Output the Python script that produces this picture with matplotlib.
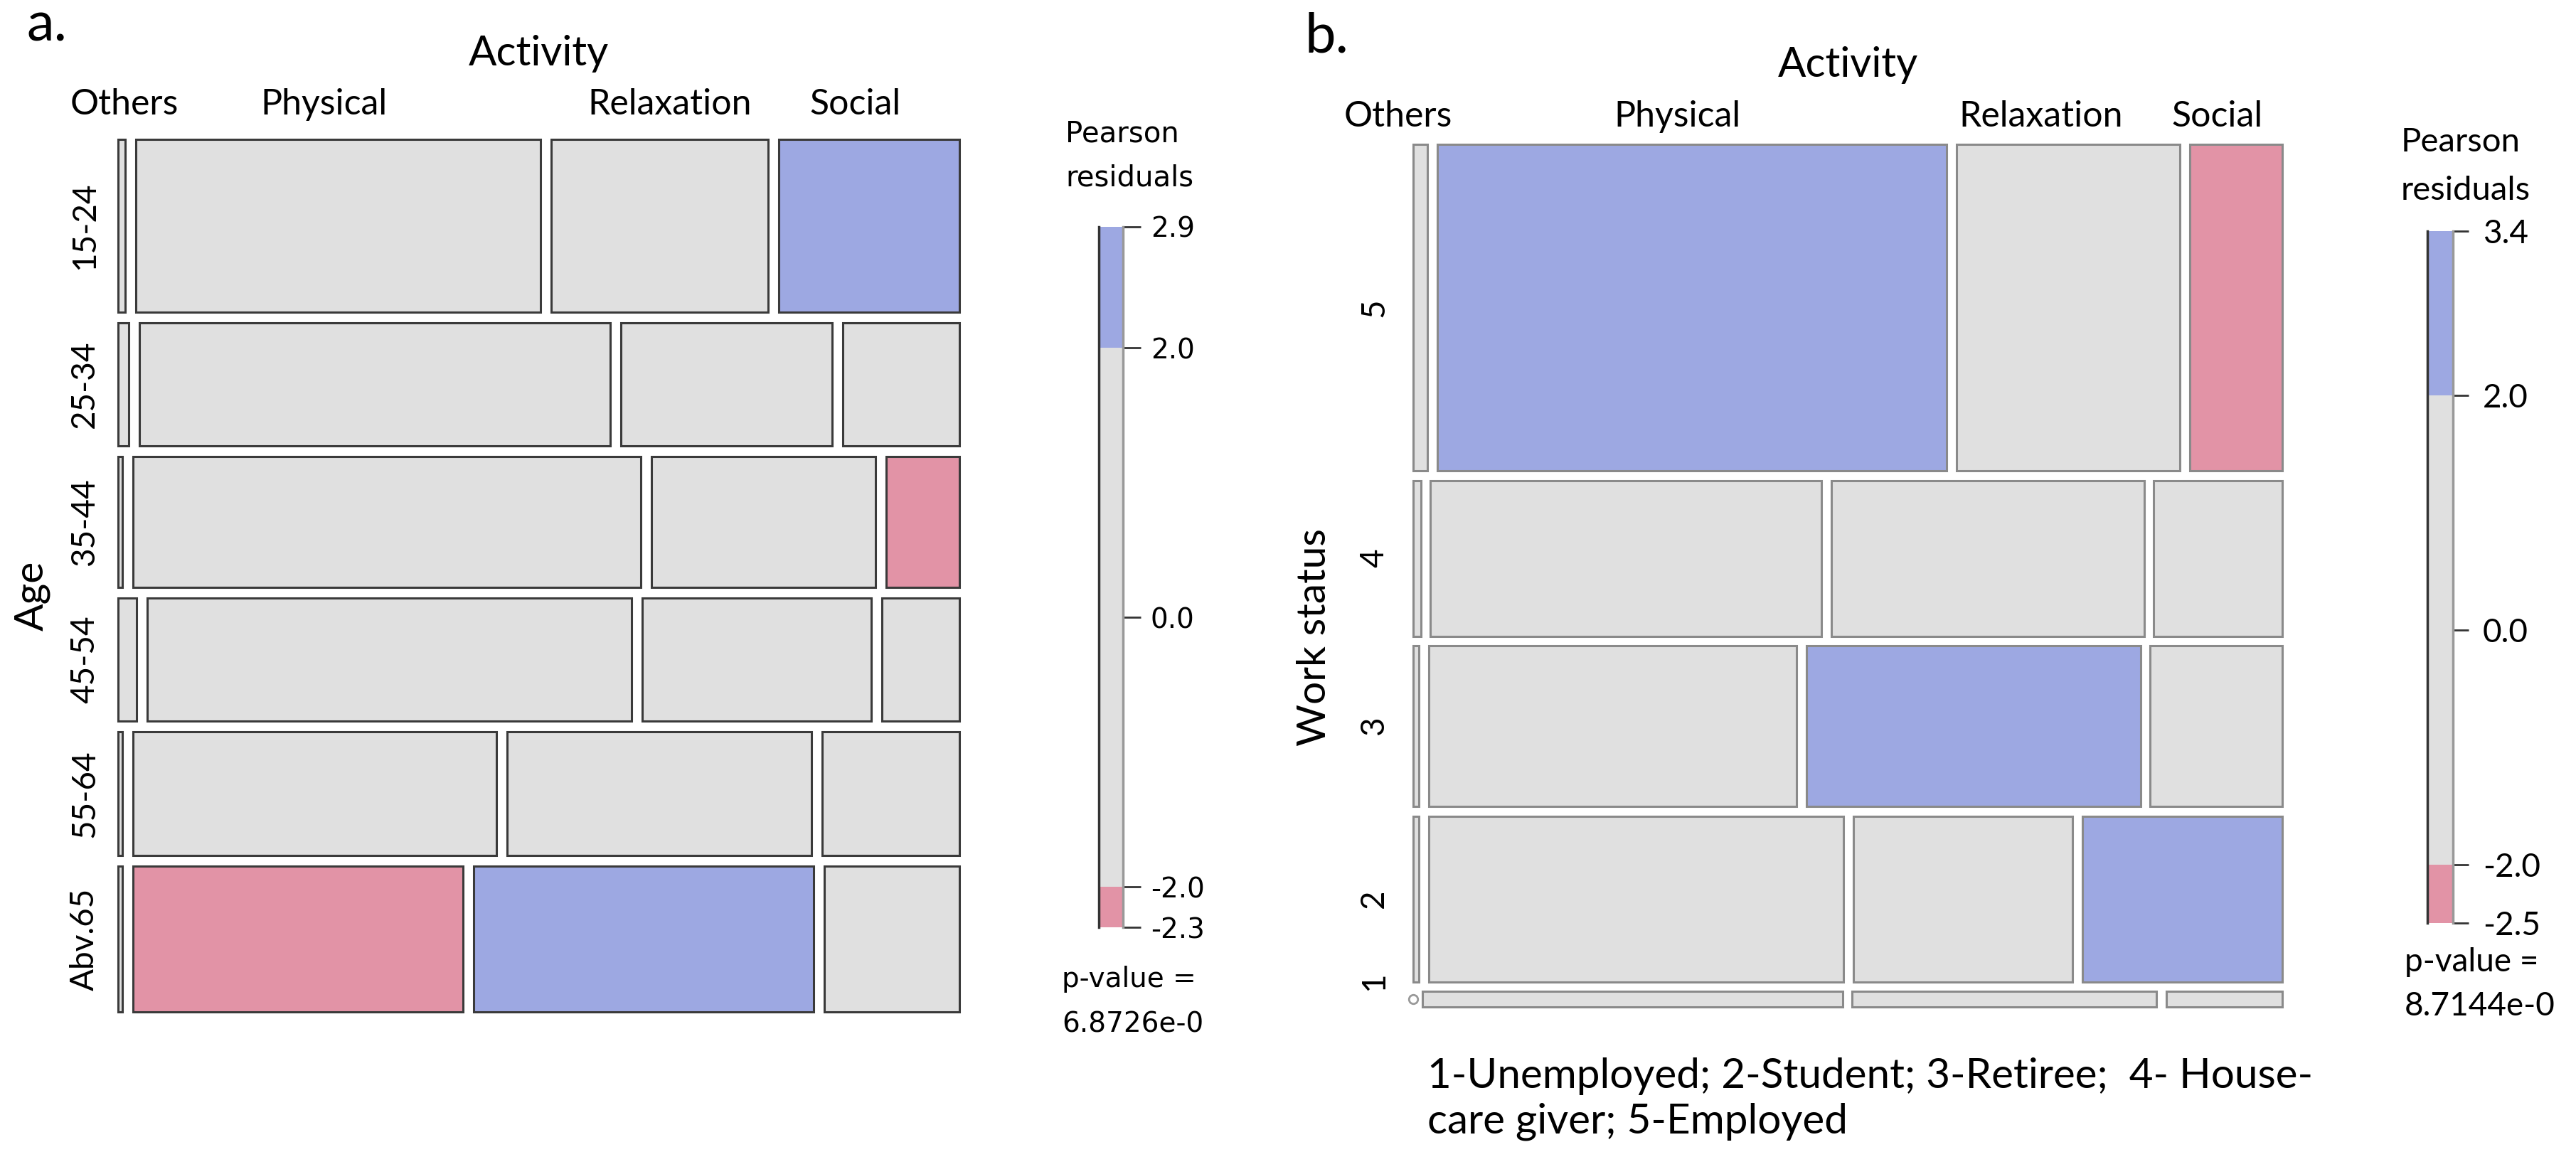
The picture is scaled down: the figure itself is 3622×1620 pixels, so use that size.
import matplotlib
matplotlib.use("Agg")
import matplotlib.pyplot as plt
from matplotlib.patches import Rectangle
import numpy as np

# ---- panel a: Age x Activity ----
activity = ["Others", "Physical", "Relaxation", "Social"]
age_groups = ["15-24", "25-34", "35-44", "45-54", "55-64", "Abv.65"]
# share of each age group (%), top to bottom
age_share = [21.1, 15.0, 16.0, 15.0, 15.1, 17.8]
# activity share within each age group (%)
age_activity = [
    [0.9, 50.0, 26.8, 22.3],
    [1.3, 58.2, 26.1, 14.4],
    [0.5, 62.7, 27.7, 9.0],
    [2.3, 59.9, 28.3, 9.6],
    [0.5, 44.9, 37.6, 17.0],
    [0.5, 40.8, 42.0, 16.7],
]
# Pearson residuals
age_resid = [
    [-0.3, -0.9, -0.6, 2.9],
    [0.4, 0.6, -0.7, -0.5],
    [-0.5, 1.1, -0.4, -2.1],
    [1.6, 0.9, -0.2, -1.6],
    [-0.5, -1.0, 1.3, 0.2],
    [-0.5, -2.3, 2.4, 0.1],
]
p_value_a = "6.8726e-0"

# ---- panel b: Work status x Activity ----
work_status = ["5", "4", "3", "2", "1"]
work_share = [39.6, 18.9, 19.5, 20.1, 1.9]
work_activity = [
    [1.7, 60.6, 26.6, 11.0],
    [0.9, 46.6, 37.3, 15.3],
    [0.7, 43.8, 39.8, 15.7],
    [0.7, 49.4, 26.1, 23.8],
    [0.0, 49.9, 36.2, 13.8],
]
work_resid = [
    [0.8, 3.4, -1.4, -2.5],
    [0.1, -1.2, 1.0, 0.6],
    [-0.3, -1.6, 2.2, 0.4],
    [-0.3, -0.6, -1.1, 3.1],
    [-0.4, -0.2, 0.3, -0.1],
]
p_value_b = "8.7144e-0"
work_note = ["1-Unemployed; 2-Student; 3-Retiree;  4- House-", "care giver; 5-Employed"]

BLUE = "#9DA8E2"
RED = "#E293A6"
GREY = "#E0E0E0"
FONT = "Lato"

W, H = 3622, 1620


def px(x, y):
    return x / W, 1 - y / H


def shade(r):
    if r > 2:
        return BLUE
    if r < -2:
        return RED
    return GREY


def draw_mosaic(ax, row_share, cells, resid, gx, gy, edge):
    rows = np.array(row_share, float)
    heights = rows / rows.sum() * (1 - gy * (len(rows) - 1))
    top = 1.0
    centers = []
    for i, h in enumerate(heights):
        bottom = top - h
        shares = np.array(cells[i], float)
        widths = shares / shares.sum() * (1 - gx * (len(shares) - 1))
        left = 0.0
        for j, w in enumerate(widths):
            if w > 0:
                ax.add_patch(Rectangle((left, bottom), w, h, facecolor=shade(resid[i][j]),
                                       edgecolor=edge, linewidth=2.2, clip_on=False))
            else:
                # empty cell
                ax.plot(left, bottom + h / 2, "o", ms=9, mfc="white", mec="#999999",
                        mew=2, clip_on=False)
            left += w + gx
        centers.append(max((bottom + top) / 2, 0.03))
        top = bottom - gy
    ax.set_xlim(0, 1)
    ax.set_ylim(0, 1)
    ax.axis("off")
    return centers


def draw_legend(ax, resid, family, size, tick_len, pad):
    r = np.array(resid, float)
    lo, hi = r.min(), r.max()
    ax.set_ylim(lo, hi)
    ax.set_xlim(0, 1)
    ax.bar(0.5, -2 - lo, bottom=lo, width=1, color=RED, linewidth=0)
    ax.bar(0.5, 4, bottom=-2, width=1, color=GREY, linewidth=0)
    ax.bar(0.5, hi - 2, bottom=2, width=1, color=BLUE, linewidth=0)
    for s in ["top", "bottom"]:
        ax.spines[s].set_visible(False)
    ax.spines["left"].set_color("#333333")
    ax.spines["left"].set_linewidth(2.5)
    ax.spines["right"].set_color("#999999")
    ax.spines["right"].set_linewidth(2.5)
    ax.set_xticks([])
    ax.yaxis.tick_right()
    ticks = [lo, -2, 0, 2, hi]
    ax.set_yticks(ticks)
    ax.set_yticklabels(["%.1f" % t for t in ticks], family=family, fontsize=size)
    ax.tick_params(axis="y", length=tick_len, width=2, color="#333333", pad=pad)


fig = plt.figure(figsize=(W / 100, H / 100), dpi=100)

# ---------------- panel a ----------------
axa = fig.add_axes([166 / W, 1 - 1423 / H, (1349 - 166) / W, (1423 - 196) / H])
rc = draw_mosaic(axa, age_share, age_activity, age_resid, 0.0127, 0.0122, "#3a3a3a")
for lab, x in zip(activity, [175, 455, 942, 1202]):
    fig.text(*px(x, 161), lab, family=FONT, fontsize=36, ha="center", va="baseline")
for lab, c in zip(age_groups, rc):
    fig.text(119 / W, (1 - 1423 / H) + c * (1227 / H), lab, family=FONT, fontsize=33,
             rotation=90, ha="center", va="center")
fig.text(*px(757, 92), "Activity", family=FONT, fontsize=42, ha="center", va="baseline")
fig.text(*px(45, 838), "Age", family=FONT, fontsize=41, rotation=90, ha="center", va="center")
fig.text(*px(38, 57), "a.", family=FONT, fontsize=56, ha="left", va="baseline")

lga = fig.add_axes([1545 / W, 1 - 1304 / H, 34 / W, 985 / H])
draw_legend(lga, age_resid, "DejaVu Sans", 28, 18, 10)
fig.text(*px(1498, 200), "Pearson", family="DejaVu Sans", fontsize=29, ha="left", va="baseline")
fig.text(*px(1498, 262), "residuals", family="DejaVu Sans", fontsize=29, ha="left", va="baseline")
fig.text(*px(1493, 1388), "p-value =", family="DejaVu Sans", fontsize=28, ha="left", va="baseline")
fig.text(*px(1493, 1452), p_value_a, family="DejaVu Sans", fontsize=28, ha="left", va="baseline")

# ---------------- panel b ----------------
axb = fig.add_axes([1987 / W, 1 - 1416 / H, (3209 - 1987) / W, (1416 - 203) / H])
rc = draw_mosaic(axb, work_share, work_activity, work_resid, 0.011, 0.011, "#8a8a8a")
for lab, x in zip(activity, [1966, 2358, 2870, 3117]):
    fig.text(*px(x, 178), lab, family=FONT, fontsize=36, ha="center", va="baseline")
for lab, c in zip(work_status, rc):
    fig.text(1932 / W, (1 - 1416 / H) + c * (1213 / H), lab, family=FONT, fontsize=33,
             rotation=90, ha="center", va="center")
fig.text(*px(2598, 108), "Activity", family=FONT, fontsize=42, ha="center", va="baseline")
fig.text(*px(1849, 896), "Work status", family=FONT, fontsize=41, rotation=90,
         ha="center", va="center")
fig.text(*px(1835, 74), "b.", family=FONT, fontsize=56, ha="left", va="baseline")

lgb = fig.add_axes([3413 / W, 1 - 1298 / H, 36 / W, 973 / H])
draw_legend(lgb, work_resid, FONT, 33, 16, 14)
fig.text(*px(3376, 213), "Pearson", family=FONT, fontsize=34, ha="left", va="baseline")
fig.text(*px(3376, 281), "residuals", family=FONT, fontsize=34, ha="left", va="baseline")
fig.text(*px(3381, 1366), "p-value =", family=FONT, fontsize=33, ha="left", va="baseline")
fig.text(*px(3381, 1428), p_value_b, family=FONT, fontsize=33, ha="left", va="baseline")
for k, line in enumerate(work_note):
    fig.text(*px(2007, 1530 + 64 * k), line, family=FONT, fontsize=42, ha="left",
             va="baseline")

fig.savefig("out.png", dpi=100)
